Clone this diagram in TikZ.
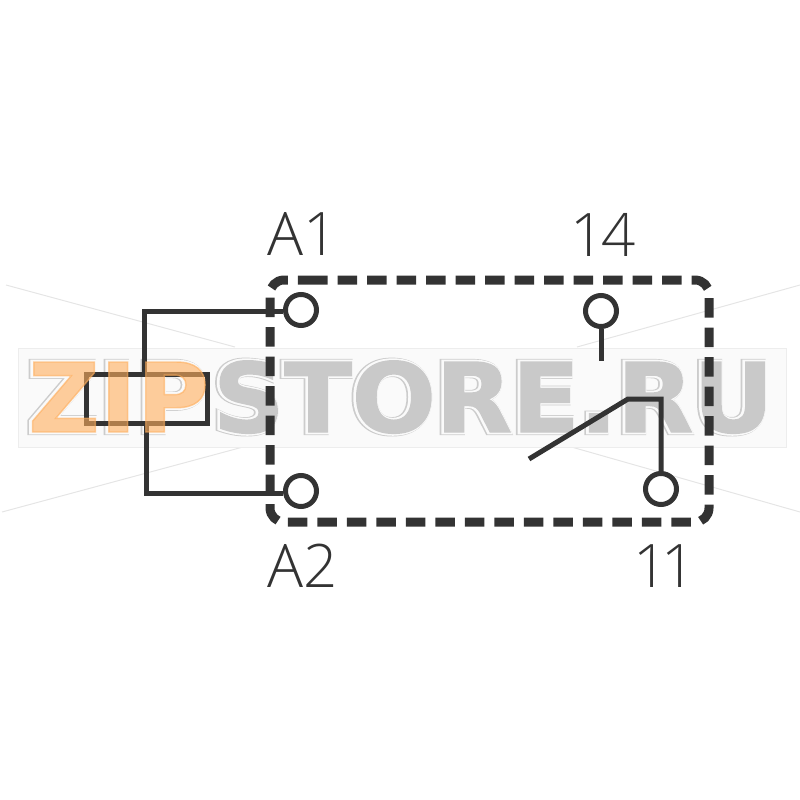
\documentclass[tikz,border=0pt]{standalone}
\usepackage{fontspec}
\setmainfont{Open Sans Light}
\newfontfamily\markfont[FakeBold=1.5]{DejaVu Sans Bold}
\newfontfamily\markhalo[FakeBold=5]{DejaVu Sans Bold}
\newfontfamily\markedge[FakeBold=6.5]{DejaVu Sans Bold}
\definecolor{ink}{HTML}{333333}
\definecolor{zipgray}{HTML}{C9C9C9}
\definecolor{ziporange}{HTML}{FFAE5C}
\tikzset{
  wire/.style={draw=ink, line width=5pt},
  terminal/.style={circle, draw=ink, line width=5pt, fill=white, minimum size=31pt, inner sep=0pt},
  pinlabel/.style={text=ink, font=\fontsize{60}{60}\selectfont, anchor=base west, inner sep=0pt},
  dashbox/.style={draw=ink, line width=9pt, dash pattern=on 19.5pt off 10pt, rounded corners=14pt},
  markline/.style={draw=black!10, line width=1pt},
  markword/.style={font=\fontsize{96}{96}\markfont, inner sep=0pt, anchor=base west, xscale=1.03}
}

\begin{document}
\begin{tikzpicture}[x=1pt, y=-1pt]
\useasboundingbox (0, 0) rectangle (800, 800);
% watermark
\coordinate (crossa) at (6, 285);
\coordinate (crossb) at (235, 347);
\coordinate (crossc) at (2, 512);
\coordinate (crossd) at (243, 447);
\coordinate (crosse) at (800, 285);
\coordinate (crossf) at (577, 347);
\coordinate (crossg) at (800, 512);
\coordinate (crossh) at (568, 446);
\draw [markline] (crossa) -- (crossb);
\draw [markline] (crossc) -- (crossd);
\draw [markline] (crosse) -- (crossf);
\draw [markline] (crossg) -- (crossh);
\node (markbox) [draw=black!7, fill=black!2, line width=1pt, minimum width=768pt, minimum height=99pt, inner sep=0pt] at (402, 397.5) {};
\node (storeedge) [markword, text=black!20] at (211, 432) {\fontsize{96}{96}\markedge STORE.RU};
\node (storehalo) [markword, text=black!2] at (212, 432) {\fontsize{96}{96}\markhalo STORE.RU};
\node (store) [markword, text=zipgray] at (213, 432) {STORE.RU};
\node (zipedge) [markword, text=black!20] at (26, 432) {\fontsize{96}{96}\markedge ZIP};
\node (ziphalo) [markword, text=black!2] at (27, 432) {\fontsize{96}{96}\markhalo ZIP};

% contact box
\coordinate (boxstart) at (308, 280);
\coordinate (boxtr) at (709, 280);
\coordinate (boxbr) at (709, 522);
\coordinate (boxbl) at (270, 522);
\coordinate (boxtl) at (270, 280);
\draw [dashbox] (boxstart) -- (boxtr) -- (boxbr) -- (boxbl) -- (boxtl) -- (boxstart);

% terminals
\node (a1) [terminal] at (301, 310) {};
\node (a2) [terminal] at (301, 491) {};
\node (t14) [terminal] at (601, 311) {};
\node (t11) [terminal] at (661, 489) {};

% coil
\node (coil) [draw=ink, line width=5pt, minimum width=121pt, minimum height=49pt, inner sep=0pt] at (146.5, 398.5) {};
\coordinate (cointop) at (144, 374);
\coordinate (coinbot) at (146, 423);
\draw [wire] (a1.west |- 0, 311) -- (144, 311) -- (cointop);
\draw [wire] (a2.west |- 0, 493) -- (146, 493) -- (coinbot);

% contact
\coordinate (stem) at (601, 361);
\coordinate (armtip) at (529, 459);
\coordinate (armbend) at (628, 399);
\coordinate (armend) at (661, 399);
\draw [wire] (t14.south) -- (stem);
\draw [wire] (armtip) -- (armbend) -- (armend) -- (t11.north);

% labels
\node (la1) [pinlabel] at (267, 255) {A1};
\node (la2) [pinlabel] at (267, 587) {A2};
\node (l14) [pinlabel] at (570, 256) {1\kern-3pt 4};
\node (l11) [pinlabel] at (633, 587) {1\kern-6pt 1};

% orange part of the watermark goes over the coil
\node (zip) [markword, text=ziporange, text opacity=0.6] at (28, 432) {ZIP};
\end{tikzpicture}
\end{document}
